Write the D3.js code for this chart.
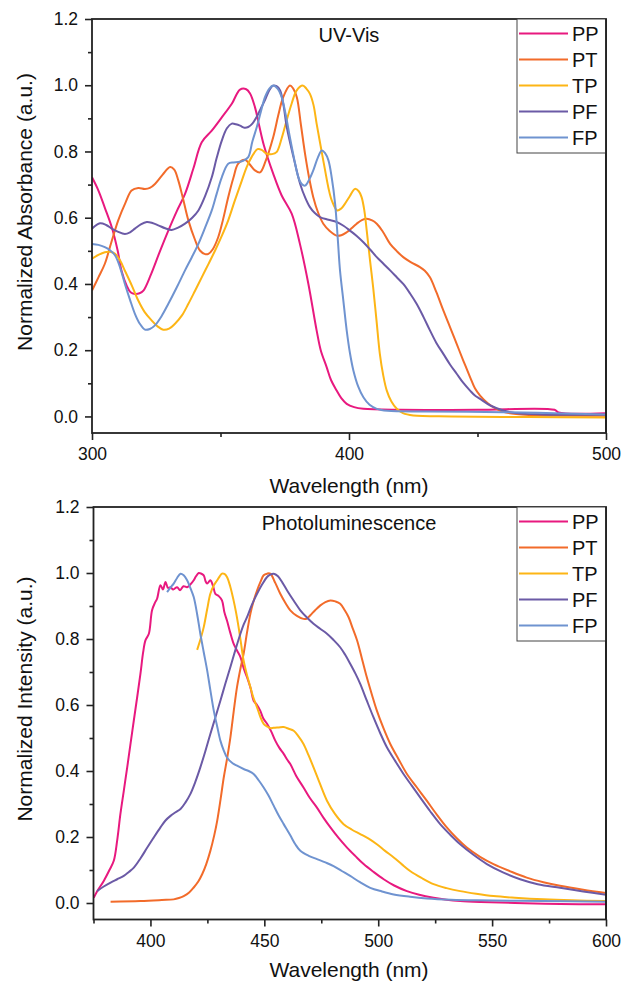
<!DOCTYPE html>
<html><head><meta charset="utf-8">
<script src="https://cdn.jsdelivr.net/npm/d3@7"></script>
<style>body{margin:0;background:#fff}svg{display:block}text{font-family:"Liberation Sans",Arial,sans-serif;fill:#111}</style>
</head><body><svg id="c" width="622" height="982"></svg>
<script>
// ---------- DATA ----------
const seriesNames = ["PP","PT","TP","PF","FP"];
const seriesColors = ["#e8197f","#f26b2a","#fdb515","#6b5aa6","#6f93d0"];

const uvXTicks = [300,400,500];
const uvXMinor = [350,450];
const plXTicks = [400,450,500,550,600];
const plXMinor = [375,425,475,525,575];
const yTicks = [0,0.2,0.4,0.6,0.8,1.0,1.2];
const yMinor = [0.1,0.3,0.5,0.7,0.9,1.1];

const uvPP = [[300,0.722],[302.5,0.682],[305,0.63],[307.7,0.571],[310,0.5],[311.5,0.44],[313.5,0.395],[315,0.375],[316.7,0.37],[318.5,0.372],[320,0.38],[323,0.43],[326,0.49],[329.7,0.561],[333,0.62],[336.2,0.672],[339.5,0.75],[342.7,0.828],[346.6,0.863],[350.5,0.903],[354.4,0.944],[357.6,0.987],[360,0.988],[361.5,0.975],[363.4,0.934],[365,0.88],[366.9,0.818],[370.5,0.733],[373.8,0.667],[377.7,0.612],[380.9,0.521],[384.2,0.40],[387.4,0.26],[389,0.2],[391.3,0.149],[393,0.11],[395.2,0.078],[397,0.055],[399.1,0.038],[402,0.028],[405.6,0.023],[420,0.02],[450,0.02],[480,0.02],[481.5,0.012],[500,0.01]];
const uvPT = [[300,0.38],[302.5,0.42],[305,0.461],[307.5,0.525],[310.2,0.592],[313,0.645],[315.4,0.682],[318,0.69],[320.6,0.687],[322.5,0.69],[324.5,0.702],[327.5,0.73],[330.4,0.753],[332,0.745],[333.6,0.712],[335.5,0.655],[337.5,0.592],[340,0.535],[342,0.501],[344,0.49],[345.3,0.491],[347,0.505],[349.1,0.541],[351,0.595],[353,0.662],[355,0.72],[356.9,0.763],[359.5,0.775],[361.5,0.76],[363.4,0.743],[365.4,0.737],[367.5,0.77],[370.5,0.843],[372.5,0.91],[374.4,0.964],[377,0.999],[378.3,0.99],[379.7,0.964],[381.3,0.88],[382.9,0.793],[384.5,0.72],[386.1,0.662],[388,0.615],[390,0.582],[392.5,0.56],[395.2,0.546],[397,0.547],[399.1,0.556],[401,0.568],[403,0.582],[405,0.593],[406.9,0.597],[409,0.592],[410.8,0.582],[413,0.56],[416,0.521],[418.5,0.5],[421.1,0.481],[424,0.466],[427.6,0.451],[429.5,0.44],[431.5,0.42],[434,0.375],[436.7,0.32],[439.3,0.27],[441.9,0.219],[444.5,0.168],[447.1,0.119],[449,0.085],[451,0.063],[454,0.04],[457,0.024],[460,0.014],[465,0.007],[470,0.004],[500,0.002]];
const uvTP = [[300,0.476],[302.5,0.488],[305,0.496],[307,0.497],[309,0.491],[311,0.47],[312.8,0.44],[315.5,0.395],[318,0.35],[320.5,0.315],[323.2,0.29],[325.5,0.272],[327.7,0.262],[330,0.265],[332.3,0.28],[335,0.305],[337.5,0.34],[340,0.378],[342.7,0.42],[345.3,0.46],[347.9,0.501],[350.5,0.545],[353,0.592],[355.5,0.65],[358.3,0.712],[360.3,0.755],[362.1,0.783],[364.4,0.807],[366,0.805],[368,0.793],[370,0.792],[371.8,0.798],[373.8,0.84],[375.7,0.893],[377.7,0.945],[379.6,0.984],[382,0.999],[383.4,0.99],[384.8,0.974],[386.2,0.94],[387.4,0.884],[389,0.815],[390.7,0.743],[392,0.69],[393.3,0.652],[395.4,0.622],[397,0.628],[398.4,0.642],[400.3,0.665],[402.3,0.687],[403.8,0.68],[404.9,0.662],[406,0.62],[406.9,0.561],[408.2,0.47],[409.4,0.39],[410.7,0.29],[412,0.189],[413.3,0.125],[414.7,0.078],[416.5,0.045],[418.6,0.023],[421,0.01],[425,0.003],[440,0.0],[470,-0.002],[500,-0.003]];
const uvPF = [[300,0.567],[303.1,0.583],[305.5,0.578],[307.7,0.567],[310,0.558],[312.8,0.551],[314.8,0.556],[316.7,0.567],[319,0.58],[321.3,0.587],[323.5,0.584],[325.8,0.577],[328.5,0.568],[331,0.563],[333.5,0.57],[336.2,0.582],[339,0.6],[341.4,0.622],[344,0.665],[346.6,0.722],[348.5,0.78],[350.5,0.833],[352.5,0.87],[354.4,0.884],[356,0.882],[357.6,0.878],[359.3,0.872],[360.8,0.874],[362.4,0.884],[364.1,0.905],[365.7,0.93],[367.3,0.955],[369,0.985],[370.5,0.999],[371.8,0.997],[373.2,0.984],[374.5,0.94],[375.8,0.873],[378.4,0.783],[381,0.702],[383,0.66],[384.8,0.632],[386.7,0.614],[388.7,0.602],[392,0.594],[395.2,0.587],[398,0.575],[400.4,0.561],[403,0.545],[405.6,0.526],[408.2,0.504],[410.8,0.481],[413.4,0.461],[416,0.441],[418.5,0.421],[421.1,0.40],[423.7,0.372],[426.3,0.34],[429,0.30],[431.5,0.26],[434,0.222],[436.7,0.189],[439.3,0.157],[441.9,0.129],[444.5,0.101],[447.1,0.078],[449,0.063],[451,0.053],[455,0.033],[460,0.018],[465,0.01],[475,0.006],[500,0.005]];
const uvFP = [[300,0.521],[302.5,0.518],[305,0.511],[307,0.502],[309,0.486],[311,0.448],[312.8,0.40],[314.8,0.352],[316.7,0.31],[318.6,0.28],[320.6,0.262],[322.5,0.264],[324.5,0.275],[327,0.302],[329.7,0.34],[333,0.39],[336.2,0.441],[338.8,0.48],[341.4,0.521],[344,0.57],[346.6,0.622],[348.5,0.672],[350.5,0.722],[353,0.763],[355,0.767],[356.9,0.768],[358.8,0.772],[360.8,0.783],[362.4,0.83],[364.1,0.873],[365.7,0.92],[367.3,0.964],[369,0.99],[370.5,0.999],[372.2,0.99],[373.8,0.964],[375.4,0.91],[377,0.843],[378.6,0.78],[380.3,0.722],[381.6,0.702],[382.9,0.697],[384.5,0.715],[386.1,0.743],[387.8,0.78],[389.4,0.803],[390.7,0.795],[392,0.773],[393.3,0.72],[394.6,0.642],[395.6,0.54],[396.5,0.441],[397.8,0.35],[399.1,0.26],[400.4,0.19],[401.7,0.139],[403.6,0.09],[405.6,0.058],[408,0.035],[410.8,0.023],[415,0.017],[430,0.015],[460,0.013],[480,0.01],[500,0.006]];

const plPP = [[375.1,0.016],[377,0.04],[379.5,0.067],[382,0.1],[383.9,0.128],[385.4,0.19],[386.8,0.269],[388.3,0.34],[389.8,0.411],[391.2,0.48],[392.7,0.553],[394.2,0.625],[395.6,0.694],[396.8,0.76],[397.8,0.796],[399.3,0.816],[400.7,0.887],[402,0.91],[402.9,0.922],[404.4,0.963],[405.5,0.95],[406.6,0.973],[407.7,0.955],[408.8,0.957],[410,0.95],[411.7,0.957],[413,0.948],[414.5,0.96],[416.1,0.957],[417.5,0.965],[419,0.978],[420,0.99],[421.2,1.0],[422.3,0.998],[423.4,0.993],[424.2,0.975],[424.9,0.968],[426.3,0.978],[427.5,0.96],[428.5,0.937],[430,0.93],[431.4,0.917],[432.5,0.88],[433.6,0.856],[435,0.82],[436.5,0.786],[438,0.765],[439.5,0.745],[441,0.71],[442.4,0.684],[444,0.65],[445.3,0.613],[446.8,0.6],[448.2,0.583],[449.5,0.56],[451.2,0.543],[453,0.52],[454.8,0.492],[456.6,0.47],[458.5,0.452],[460,0.435],[461.4,0.421],[464,0.385],[467.2,0.35],[470,0.318],[473.1,0.289],[476,0.258],[479,0.229],[482.5,0.198],[486.3,0.168],[490,0.142],[493.6,0.118],[498,0.094],[502.4,0.072],[507,0.053],[512.6,0.036],[518,0.025],[524.3,0.016],[530,0.01],[536,0.006],[545,0.003],[560,0.0],[580,-0.003],[600,-0.004]];
const plPT = [[382.5,0.004],[395.6,0.006],[405,0.009],[410.2,0.011],[412.5,0.015],[414.6,0.021],[417,0.032],[419,0.047],[421,0.065],[422.7,0.087],[424.5,0.118],[426.3,0.158],[428,0.205],[429.3,0.249],[430.8,0.315],[432.2,0.381],[433.7,0.44],[435.1,0.502],[436.5,0.578],[438,0.654],[439.5,0.71],[440.9,0.755],[442.4,0.82],[443.9,0.877],[445.3,0.915],[446.8,0.947],[448.3,0.973],[449.7,0.993],[451.2,0.998],[452.6,0.998],[454.8,0.97],[457,0.937],[459.2,0.91],[461.4,0.887],[464.3,0.87],[467.2,0.861],[468.7,0.862],[470.2,0.872],[472.4,0.888],[474.6,0.902],[476.8,0.912],[479,0.917],[481.2,0.914],[483.3,0.907],[485.2,0.888],[487,0.866],[488.8,0.832],[490.7,0.796],[492.8,0.742],[495,0.684],[497.2,0.632],[499.4,0.583],[502.3,0.53],[505.3,0.482],[509,0.435],[512.6,0.391],[517,0.35],[521.3,0.31],[525.7,0.268],[530.1,0.229],[534.5,0.196],[538.9,0.168],[544.7,0.14],[550.6,0.118],[558,0.096],[565.2,0.077],[572.5,0.063],[579.8,0.052],[590,0.04],[600,0.03]];
const plTP = [[420.5,0.767],[422,0.8],[423.4,0.836],[424.9,0.89],[426.3,0.937],[427.8,0.962],[429.3,0.978],[430.4,0.99],[431.4,0.998],[432.5,0.997],[433.6,0.988],[435,0.96],[436.5,0.917],[437.6,0.88],[438.7,0.836],[439.8,0.785],[440.9,0.735],[442.4,0.69],[443.9,0.654],[445.3,0.62],[446.8,0.593],[448.2,0.565],[449.7,0.543],[451.2,0.535],[452.6,0.53],[454.1,0.531],[456.3,0.532],[458.5,0.533],[460.7,0.528],[462.9,0.522],[465,0.505],[467.2,0.482],[469.4,0.448],[471.6,0.411],[474.5,0.36],[477.5,0.31],[481,0.27],[484.8,0.239],[488.5,0.222],[492.1,0.209],[495.8,0.195],[499.4,0.178],[503,0.158],[506.8,0.138],[510.4,0.117],[514,0.097],[519,0.076],[524.3,0.057],[530,0.045],[536,0.036],[543,0.028],[550.6,0.021],[560,0.016],[572.5,0.011],[585,0.008],[600,0.006]];
const plPF = [[376.6,0.036],[379.5,0.05],[382.5,0.062],[385.4,0.072],[388.3,0.082],[390.5,0.094],[392.7,0.107],[395.6,0.135],[398.6,0.168],[401.5,0.199],[404.4,0.229],[406.6,0.25],[408.8,0.264],[411,0.275],[413.2,0.285],[415.4,0.305],[417.5,0.33],[419.7,0.367],[421.9,0.411],[424.1,0.46],[426.3,0.512],[428.5,0.562],[430.7,0.613],[432.9,0.665],[435.1,0.715],[437.3,0.767],[439.5,0.816],[441,0.845],[442.4,0.866],[444.6,0.905],[446.8,0.937],[449,0.965],[451.2,0.988],[452.6,0.995],[454.1,0.998],[456,0.99],[458,0.97],[460,0.947],[463,0.915],[465.8,0.887],[468.7,0.865],[471.6,0.846],[474.5,0.831],[477.5,0.816],[480.4,0.797],[483.3,0.775],[485.5,0.752],[487.7,0.725],[490,0.695],[492.1,0.664],[495,0.613],[497.9,0.563],[500.8,0.516],[503.8,0.472],[507.5,0.43],[511.1,0.391],[514.8,0.355],[518.4,0.32],[522.8,0.278],[527.2,0.239],[531.6,0.207],[536,0.178],[541.8,0.146],[547.7,0.118],[555,0.092],[562.3,0.072],[570,0.057],[579.8,0.046],[590,0.035],[600,0.025]];
const plFP = [[407.3,0.942],[408.7,0.955],[410.2,0.968],[411.7,0.985],[413.2,0.998],[414.6,0.993],[416.1,0.978],[417.5,0.955],[419,0.927],[420.5,0.875],[421.9,0.816],[423.4,0.76],[424.9,0.705],[426.3,0.645],[427.8,0.583],[429.3,0.535],[430.7,0.492],[432.2,0.462],[433.6,0.441],[435.8,0.425],[438,0.416],[440.9,0.406],[443.1,0.4],[445.3,0.391],[447.5,0.372],[449.7,0.35],[451.9,0.325],[454.1,0.295],[456.3,0.265],[458.5,0.239],[461.4,0.205],[463.6,0.178],[465.8,0.158],[469.5,0.143],[473.1,0.133],[476.8,0.123],[480.4,0.112],[484,0.097],[487.7,0.082],[492,0.063],[496.5,0.046],[501.6,0.035],[506.8,0.026],[514,0.019],[521.3,0.014],[532,0.01],[543.3,0.008],[572.5,0.006],[600,0.004]];

// ---------- DRAW ----------
const svg = d3.select("#c");

function panel(cfg){
  const g = svg.append("g");
  const x = d3.scaleLinear().domain(cfg.xDomain).range([cfg.left, cfg.right]);
  const y = d3.scaleLinear().domain([-0.05,1.2]).range([cfg.bottom, cfg.top]);

  const clipId = "clip" + cfg.id;
  svg.append("clipPath").attr("id", clipId).append("rect")
    .attr("x", cfg.left).attr("y", cfg.top).attr("width", cfg.right-cfg.left).attr("height", cfg.bottom-cfg.top);

  const line = d3.line().x(d=>x(d[0])).y(d=>y(d[1])).curve(d3.curveCatmullRom.alpha(0.5));
  const lg = g.append("g").attr("clip-path", `url(#${clipId})`);
  cfg.data.forEach((s,i)=>{
    lg.append("path").datum(s).attr("d", line)
      .attr("fill","none").attr("stroke", seriesColors[i]).attr("stroke-width",2).attr("stroke-linejoin","round");
  });

  // axes
  const xa = g.append("g").attr("transform",`translate(0,${cfg.bottom})`)
    .call(d3.axisBottom(x).tickValues(cfg.xTicks).tickSize(7).tickPadding(8).tickSizeOuter(0).tickFormat(d3.format("d")));
  const xm = g.append("g").attr("transform",`translate(0,${cfg.bottom})`)
    .call(d3.axisBottom(x).tickValues(cfg.xMinor).tickSize(4).tickFormat("").tickSizeOuter(0));
  const ya = g.append("g").attr("transform",`translate(${cfg.left},0)`)
    .call(d3.axisLeft(y).tickValues(yTicks).tickSize(7).tickPadding(7).tickSizeOuter(0).tickFormat(d3.format(".1f")));
  const ym = g.append("g").attr("transform",`translate(${cfg.left},0)`)
    .call(d3.axisLeft(y).tickValues(yMinor).tickSize(4).tickFormat("").tickSizeOuter(0));
  [xa,xm,ya,ym].forEach(a=>{
    a.select(".domain").remove();
    a.selectAll("line").attr("stroke","#222").attr("stroke-width",1.6);
    a.selectAll("text").attr("font-size",17.5).attr("fill","#111").attr("font-family",'"Liberation Sans",Arial,sans-serif');
  });

  // frame
  g.append("rect").attr("x",cfg.left).attr("y",cfg.top).attr("width",cfg.right-cfg.left).attr("height",cfg.bottom-cfg.top)
    .attr("fill","none").attr("stroke","#222").attr("stroke-width",1.8);

  // legend
  const lgx = 517, lgTop = cfg.top, lgH = 134;
  g.append("rect").attr("x",lgx).attr("y",lgTop).attr("width",cfg.right-lgx).attr("height",lgH)
    .attr("fill","#fff").attr("stroke","#444").attr("stroke-width",1);
  seriesNames.forEach((n,i)=>{
    const yy = lgTop + 14.5 + i*26;
    g.append("line").attr("x1",519).attr("x2",568).attr("y1",yy).attr("y2",yy)
      .attr("stroke",seriesColors[i]).attr("stroke-width",2.2);
    g.append("text").attr("x",572).attr("y",yy+7).attr("font-size",20).text(n);
  });
  g.append("line").attr("x1",cfg.right).attr("x2",cfg.right).attr("y1",cfg.top).attr("y2",cfg.bottom)
    .attr("stroke","#222").attr("stroke-width",1.8);

  // titles
  g.append("text").attr("x",349).attr("y",cfg.top+22.5).attr("text-anchor","middle").attr("font-size",20).text(cfg.title);
  g.append("text").attr("x",349).attr("y",cfg.xTitleY).attr("text-anchor","middle").attr("font-size",21).text("Wavelength (nm)");
  g.append("text").attr("transform",`translate(32,${cfg.yTitleC}) rotate(-90)`).attr("text-anchor","middle").attr("font-size",21).text(cfg.yTitle);
}

panel({id:1, xDomain:[300,500], left:92, right:606, top:19, bottom:433,
  xTicks:uvXTicks, xMinor:uvXMinor, data:[uvPP,uvPT,uvTP,uvPF,uvFP],
  title:"UV-Vis", xTitleY:493, yTitleC:212, yTitle:"Normalized Absorbance (a.u.)"});
panel({id:2, xDomain:[375,600], left:93.5, right:606, top:507, bottom:919.5,
  xTicks:plXTicks, xMinor:plXMinor, data:[plPP,plPT,plTP,plPF,plFP],
  title:"Photoluminescence", xTitleY:977, yTitleC:699, yTitle:"Normalized Intensity (a.u.)"});
</script></body></html>
